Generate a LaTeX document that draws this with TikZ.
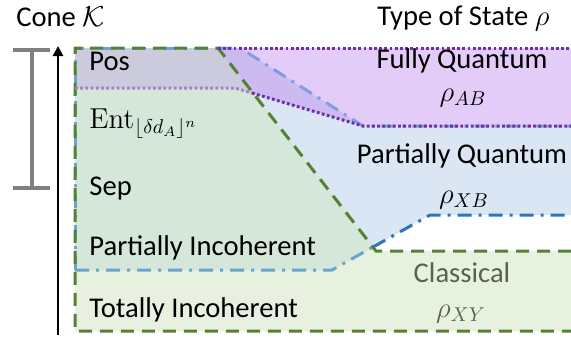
\documentclass[tikz,border=0pt]{standalone}
\usepackage[no-math]{fontspec}
\setmainfont{Carlito}
\usetikzlibrary{arrows.meta}
\definecolor{lblue}{HTML}{DAE6F3}
\definecolor{lav}{HTML}{E3CCF7}
\definecolor{purblue}{HTML}{CDBAF0}
\definecolor{posgray}{HTML}{CCCADD}
\definecolor{midgreen}{HTML}{D4E7D8}
\definecolor{lgreen}{HTML}{E8F1DF}
\definecolor{gline}{HTML}{548235}
\definecolor{bline}{HTML}{2E75B6}
\definecolor{blineg}{HTML}{6BA3CC}
\definecolor{blinep}{HTML}{7B9FE3}
\definecolor{pline}{HTML}{7030A0}
\definecolor{plinel}{HTML}{A381CC}
\definecolor{beam}{HTML}{808080}
\definecolor{classtxt}{HTML}{56644E}
\tikzset{
  lbl/.style={font=\fontsize{14.3pt}{17pt}\selectfont, inner sep=0pt},
  gdash/.style={draw=gline, line width=1.5pt, dash pattern=on 6.5pt off 4pt},
  bdashdot/.style={line width=1.5pt, dash pattern=on 7pt off 3.5pt on 1.5pt off 3.5pt},
  pdot/.style={line width=1.5pt, dash pattern=on 1.4pt off 1.2pt},
}
\begin{document}
\begin{tikzpicture}[x=0.5pt,y=-0.5pt]
\useasboundingbox (0,0) rectangle (571,339);
\def\bluereg{(75,48) -- (240,48) -- (363,126) -- (571,126) -- (571,215) -- (430,215) -- (332,270) -- (75,270) -- cycle}
\def\greenreg{(75,48) -- (218,48) -- (376,251) -- (571,251) -- (571,331) -- (75,331) -- cycle}
\def\purpreg{(75,48) -- (571,48) -- (571,126) -- (363,126) -- (235,88) -- (75,88) -- cycle}
% fills
\fill[lblue] \bluereg;
\fill[lgreen] \greenreg;
\begin{scope}
  \clip \bluereg;
  \fill[midgreen] \greenreg;
\end{scope}
\fill[lav] \purpreg;
\begin{scope}
  \clip \purpreg;
  \fill[purblue] \bluereg;
  \clip \greenreg;
  \fill[posgray] \bluereg;
\end{scope}
% blue dash-dot boundary
\draw[bdashdot, draw=blineg] (75,270) -- (75,48) -- (218,48);
\draw[bdashdot, draw=blineg] (75,270) -- (332,270) -- (373,247);
\draw[bdashdot, draw=bline] (373,247) -- (430,215) -- (571,215);
\draw[bdashdot, draw=blinep] (218,48) -- (240,48) -- (363,126) -- (571,126);
% green dashed boundary
\draw[gdash] (571,251) -- (376,251) -- (218,48) -- (75,48) -- (75,331) -- (571,331);
% purple dotted boundary
\draw[pdot, draw=pline] (218,48) -- (571,48);
\draw[pdot, draw=plinel] (75,88) -- (235,88) -- (252,93);
\draw[pdot, draw=pline] (252,93) -- (363,126) -- (571,126);
% left markers
\draw[beam, line width=2pt] (13,50) -- (50,50) (32,50) -- (32,188) (13,188) -- (50,188);
\draw[line width=1.25pt, -{Triangle[width=5pt,length=5pt]}] (58,335) -- (58,46);
% texts
\node[lbl, anchor=base west] (cone) at (16,26) {Cone $\mathcal{K}$};
\node[lbl, anchor=base west] (type) at (377,25) {Type of State $\rho$};
\node[lbl, anchor=base west] (pos) at (89,70) {Pos};
\node[lbl, anchor=base west] (ent) at (89,128) {$\mathrm{Ent}_{\lfloor\delta d_A\rfloor^n}$};
\node[lbl, anchor=base west] (sep) at (89,195) {Sep};
\node[lbl, anchor=base west] (pinc) at (89,255) {Partially Incoherent};
\node[lbl, anchor=base west] (tinc) at (89,317) {Totally Incoherent};
\node[lbl, anchor=base] (fq) at (462,68) {Fully Quantum};
\node[lbl, anchor=base] (rab) at (463,101) {$\rho_{AB}$};
\node[lbl, anchor=base] (pq) at (462,163) {Partially Quantum};
\node[lbl, anchor=base] (rxb) at (464,203) {$\rho_{XB}$};
\node[lbl, anchor=base, text=classtxt] (cl) at (462,282) {Classical};
\node[lbl, anchor=base, text=classtxt] (rxy) at (461,317) {$\rho_{XY}$};
\end{tikzpicture}
\end{document}
